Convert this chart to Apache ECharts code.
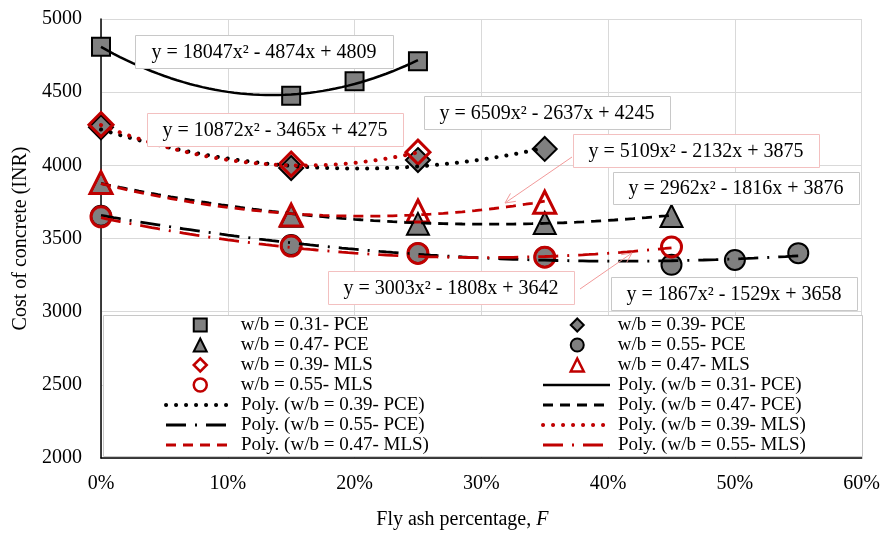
<!DOCTYPE html>
<html><head><meta charset="utf-8">
<script src="https://cdn.jsdelivr.net/npm/echarts@6/dist/echarts.min.js"></script>
<style>html,body{margin:0;padding:0;background:#fff}#c{width:883px;height:535px}</style>
</head><body><div id="c"></div><script>
const FONT = 'Liberation Serif';
const RED = '#c00000';
const GRAY = '#808080';

// x positions (fly ash fraction) and cost values
const xPce31 = [0, 0.15, 0.20, 0.25];
const yPce31 = [4810, 4475, 4575, 4712];
const xPce39 = [0, 0.15, 0.25, 0.35];
const yPce39 = [4260, 3982, 4036, 4112];
const xPce47 = [0, 0.15, 0.25, 0.35, 0.45];
const yPce47 = [3880, 3655, 3600, 3606, 3654];
const xPce55 = [0, 0.15, 0.25, 0.35, 0.45, 0.50, 0.55];
const yPce55 = [3655, 3455, 3400, 3373, 3320, 3353, 3400];
const xMls39 = [0, 0.15, 0.25];
const yMls39 = [4278, 4008, 4090];
const xMls47 = [0, 0.15, 0.25, 0.35];
const yMls47 = [3882, 3660, 3688, 3748];
const xMls55 = [0, 0.15, 0.25, 0.35, 0.45];
const yMls55 = [3648, 3448, 3398, 3372, 3442];

// polynomial trend-line coefficients [a2, a1, a0] as printed on the chart
const polyPce31 = [18047, -4874, 4809];
const polyPce39 = [6509, -2637, 4245];
const polyPce47 = [2962, -1816, 3876];
const polyPce55 = [1867, -1529, 3658];
const polyMls39 = [10872, -3465, 4275];
const polyMls47 = [5109, -2132, 3875];
const polyMls55 = [3003, -1808, 3642];

const yTicks = [2000, 2500, 3000, 3500, 4000, 4500, 5000];
const xTicks = ['0%', '10%', '20%', '30%', '40%', '50%', '60%'];

const names = {
  p31: 'w/b = 0.31- PCE', p39: 'w/b = 0.39- PCE', p47: 'w/b = 0.47- PCE', p55: 'w/b = 0.55- PCE',
  m39: 'w/b = 0.39- MLS', m47: 'w/b = 0.47- MLS', m55: 'w/b = 0.55- MLS'
};
const poly = n => 'Poly. (' + n + ')';

function pts(xs, ys) { return xs.map((x, i) => [x, ys[i]]); }
function trend(c, xs) {
  const xmax = xs[xs.length - 1];
  const out = [];
  const n = Math.round(xmax / 0.005);
  for (let i = 0; i <= n; i++) {
    const x = i * xmax / n;
    out.push([x, c[0] * x * x + c[1] * x + c[2]]);
  }
  return out;
}
function scatter(name, sym, size, xs, ys, red) {
  return {
    type: 'scatter', name, symbol: sym, symbolSize: size, data: pts(xs, ys),
    itemStyle: red ? { color: 'rgba(255,255,255,0)', borderColor: RED, borderWidth: 3, opacity: 1 }
                   : { color: GRAY, borderColor: '#000', borderWidth: 2, opacity: 1 },
    z: 2, silent: true
  };
}
function line(name, c, xs, color, type, width, cap) {
  return {
    type: 'line', name, data: trend(c, xs), symbol: 'none', showSymbol: false, smooth: false,
    lineStyle: { color, type, width, cap: cap || 'butt' },
    itemStyle: { color: 'rgba(0,0,0,0)', borderWidth: 0, borderColor: 'rgba(0,0,0,0)' },
    z: 3, silent: true
  };
}

const DOT = [0.1, 9.9];
const DASH = [10, 7];
const DASHDOT = [20, 9, 2, 9];

const series = [
  scatter(names.p31, 'rect', 18, xPce31, yPce31, false),
  scatter(names.p39, 'diamond', 24, xPce39, yPce39, false),
  scatter(names.p47, 'triangle', 22, xPce47, yPce47, false),
  scatter(names.p55, 'circle', 20, xPce55, yPce55, false),
  scatter(names.m39, 'diamond', 24, xMls39, yMls39, true),
  scatter(names.m47, 'triangle', 22, xMls47, yMls47, true),
  scatter(names.m55, 'circle', 20, xMls55, yMls55, true),
  line(poly(names.p31), polyPce31, xPce31, '#000', 'solid', 2.5),
  line(poly(names.p39), polyPce39, xPce39, '#000', DOT, 4, 'round'),
  line(poly(names.p47), polyPce47, xPce47, '#000', DASH, 2.8),
  line(poly(names.p55), polyPce55, xPce55, '#000', DASHDOT, 2.8),
  line(poly(names.m39), polyMls39, xMls39, RED, DOT, 4, 'round'),
  line(poly(names.m47), polyMls47, xMls47, RED, DASH, 2.8),
  line(poly(names.m55), polyMls55, xMls55, RED, DASHDOT, 2.8)
];

function legendOf(left, top, iconW, textPad, data) {
  return {
    orient: 'vertical', left, top, itemWidth: iconW, itemHeight: 13, itemGap: 0, padding: 0,
    selectedMode: false, z: 6, lineStyle: { width: 'inherit' },
    textStyle: { fontFamily: FONT, fontSize: 19, color: '#000', lineHeight: 20, padding: [0, 0, 0, textPad] },
    data
  };
}
const mk = (name, red) => ({ name, itemStyle: red
  ? { color: 'rgba(255,255,255,0)', borderColor: RED, borderWidth: 2.5 }
  : { color: GRAY, borderColor: '#000', borderWidth: 2 } });

// equation boxes: [text, x, y, w, h, pink]
const eqs = [
  ['y = 18047x\u00b2 - 4874x + 4809', 135, 35, 258, 33, false],
  ['y = 10872x\u00b2 - 3465x + 4275', 147, 113, 256, 33, true],
  ['y = 6509x\u00b2 - 2637x + 4245', 424, 96, 246, 33, false],
  ['y = 5109x\u00b2 - 2132x + 3875', 573, 134, 246, 33, true],
  ['y = 2962x\u00b2 - 1816x + 3876', 613, 172, 246, 32, false],
  ['y = 3003x\u00b2 - 1808x + 3642', 328, 271, 246, 33, true],
  ['y = 1867x\u00b2 - 1529x + 3658', 611, 277, 246, 33, false]
];
const graphics = [];
graphics.push({ type: 'rect', z: 5, silent: true,
  shape: { x: 103.5, y: 315.5, width: 759, height: 141 },
  style: { fill: '#fff', stroke: '#c8c8c8', lineWidth: 1 } });
eqs.forEach(e => {
  graphics.push({ type: 'rect', z: 7, silent: true,
    shape: { x: e[1] + 0.5, y: e[2] + 0.5, width: e[3], height: e[4] },
    style: { fill: '#fff', stroke: e[5] ? '#f3c0c0' : '#c8c8c8', lineWidth: 1 } });
  graphics.push({ type: 'text', z: 8, silent: true,
    x: e[1] + e[3] / 2, y: e[2] + e[4] / 2 + 1,
    style: { text: e[0], font: '20px "' + FONT + '"', fill: '#000', align: 'center', verticalAlign: 'middle' } });
});
function arrow(x1, y1, x2, y2) {
  const dx = x2 - x1, dy = y2 - y1, L = Math.hypot(dx, dy);
  const ux = dx / L, uy = dy / L, a = 0.45, h = 11;
  const w1 = [x2 - h * (ux * Math.cos(a) - uy * Math.sin(a)), y2 - h * (uy * Math.cos(a) + ux * Math.sin(a))];
  const w2 = [x2 - h * (ux * Math.cos(a) + uy * Math.sin(a)), y2 - h * (uy * Math.cos(a) - ux * Math.sin(a))];
  graphics.push({ type: 'line', z: 7, silent: true, shape: { x1, y1, x2, y2 }, style: { stroke: '#f29a9a', lineWidth: 1 } });
  graphics.push({ type: 'polyline', z: 7, silent: true, shape: { points: [w1, [x2, y2], w2] }, style: { stroke: '#f29a9a', lineWidth: 1, fill: null } });
}
arrow(572, 157, 505, 203);
arrow(580, 289, 632, 253);

const chart = echarts.init(document.getElementById('c'));
chart.setOption({
  animation: false,
  backgroundColor: '#fff',
  grid: { left: 101, right: 20, top: 19, bottom: 77, containLabel: false },
  xAxis: {
    type: 'value', min: 0, max: 0.6, interval: 0.1,
    name: 'Fly ash percentage, {i|F}', nameLocation: 'middle', nameGap: 52,
    nameTextStyle: { fontFamily: FONT, fontSize: 20, color: '#000', padding: [0, 38, 0, 0],
      rich: { i: { fontFamily: FONT, fontSize: 20, fontStyle: 'italic', color: '#000' } } },
    axisLine: { show: true, onZero: false, lineStyle: { color: '#000', width: 1.5 } },
    axisTick: { show: false },
    axisLabel: { fontFamily: FONT, fontSize: 20, color: '#000', margin: 16,
      formatter: v => xTicks[Math.round(v * 10)] },
    splitLine: { show: true, lineStyle: { color: '#d9d9d9', width: 1 } }
  },
  yAxis: {
    type: 'value', min: yTicks[0], max: yTicks[yTicks.length - 1], interval: 500,
    name: 'Cost of concrete (INR)', nameLocation: 'middle', nameGap: 66,
    nameTextStyle: { fontFamily: FONT, fontSize: 20, color: '#000' },
    axisLine: { show: true, lineStyle: { color: '#000', width: 1.5 } },
    axisTick: { show: false },
    axisLabel: { fontFamily: FONT, fontSize: 20, color: '#000', margin: 19,
      formatter: v => String(v) },
    splitLine: { show: true, lineStyle: { color: '#d9d9d9', width: 1 } }
  },
  legend: [
    legendOf(192.5, 315, 13, 29, [mk(names.p31), mk(names.p47), mk(names.m39, true), mk(names.m55, true)]),
    legendOf(164, 395, 67, 3, [poly(names.p39), poly(names.p55), poly(names.m47)]),
    legendOf(569.5, 315, 13, 29, [mk(names.p39), mk(names.p55), mk(names.m47, true)]),
    legendOf(541, 375, 67, 3, [poly(names.p31), poly(names.p47), poly(names.m39), poly(names.m55)])
  ],
  graphic: { elements: graphics },
  series
});
</script></body></html>
